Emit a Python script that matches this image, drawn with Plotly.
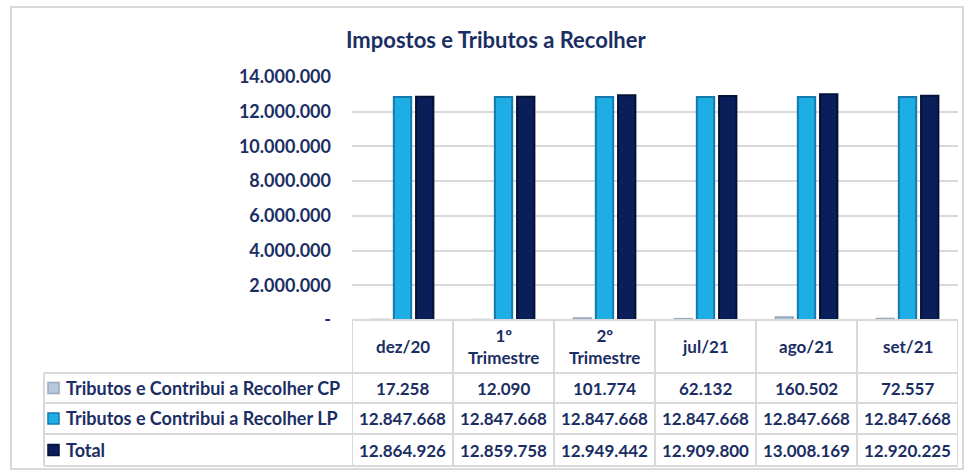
import plotly.graph_objects as go

# ---------------- data ----------------
categories = ["dez/20", "1º Trimestre", "2º Trimestre", "jul/21", "ago/21", "set/21"]
header_labels = ["dez/20", "1º<br>Trimestre", "2º<br>Trimestre", "jul/21", "ago/21", "set/21"]
series_names = ["Tributos e Contribui a Recolher CP",
                "Tributos e Contribui a Recolher LP",
                "Total"]
cp_values = [17258, 12090, 101774, 62132, 160502, 72557]
lp_values = [12847668, 12847668, 12847668, 12847668, 12847668, 12847668]
total_values = [12864926, 12859758, 12949442, 12909800, 13008169, 12920225]
y_tickvals = [0, 2000000, 4000000, 6000000, 8000000, 10000000, 12000000, 14000000]
title_text = "Impostos e Tributos a Recolher"

# ---------------- style ----------------
W, H = 965, 471
L, R, T, B = 352, 958, 77, 320   # plot area in pixels
FONT = "Lato"
NAVY_TXT = "#1B2E63"
GRID = "#D9D9D9"
fills = ["#B9C9DA", "#1EAEE6", "#0A1E5A"]
edges = ["#97AAC0", "#1679AE", "#051238"]


def fmt(v):
    return "-" if v == 0 else f"{v:,}".replace(",", ".")


def px(x):
    return (x - L) / (R - L)


def py(y):
    return (B - y) / (B - T)


fig = go.Figure()
all_series = [cp_values, lp_values, total_values]
for name, vals, fc, ec in zip(series_names, all_series, fills, edges):
    fig.add_trace(go.Bar(
        x=categories, y=vals, name=name,
        marker=dict(color=fc, line=dict(color=ec, width=2)),
        showlegend=False, hoverinfo="y+name",
    ))

shapes = []
annotations = []
line_style = dict(color=GRID, width=2)

# outer chart border
shapes.append(dict(type="rect", xref="paper", yref="paper",
                   x0=px(11), x1=px(963), y0=py(7), y1=py(469),
                   line=dict(color=GRID, width=2), fillcolor="rgba(0,0,0,0)", layer="below"))

# table geometry (pixels)
header_top, row_tops = 320, [373, 403, 434]
table_bottom = 466
legend_left = 44
row_bounds = row_tops + [table_bottom]

# horizontal lines
shapes.append(dict(type="line", xref="paper", yref="paper", x0=0, x1=1,
                   y0=py(header_top), y1=py(header_top), line=line_style))
for yb in row_bounds:
    shapes.append(dict(type="line", xref="paper", yref="paper", x0=px(legend_left), x1=1,
                       y0=py(yb), y1=py(yb), line=line_style))
# vertical lines
shapes.append(dict(type="line", xref="paper", yref="paper", x0=px(legend_left), x1=px(legend_left),
                   y0=py(row_tops[0]), y1=py(table_bottom), line=line_style))
n = len(categories)
for i in range(n + 1):
    shapes.append(dict(type="line", xref="x", yref="paper", x0=i - 0.5, x1=i - 0.5,
                       y0=py(header_top), y1=py(table_bottom), line=line_style))

num_font = dict(family=FONT, size=17, color=NAVY_TXT)
leg_font = dict(family=FONT, size=18, color=NAVY_TXT)
# header labels
for i, lab in enumerate(header_labels):
    annotations.append(dict(x=i, y=py((header_top + row_tops[0]) / 2), xref="x", yref="paper",
                            text=f"<b>{lab}</b>", showarrow=False, font=num_font,
                            xanchor="center", yanchor="middle"))
# rows
for r, (name, vals) in enumerate(zip(series_names, all_series)):
    yc = (row_bounds[r] + row_bounds[r + 1]) / 2
    # legend key
    shapes.append(dict(type="rect", xref="paper", yref="paper",
                       x0=px(48), x1=px(59), y0=py(yc - 5.5), y1=py(yc + 5.5),
                       fillcolor=fills[r], line=dict(color=edges[r], width=1.5)))
    annotations.append(dict(x=px(64), y=py(yc), xref="paper", yref="paper",
                            text=f"<b>{name}</b>", showarrow=False, font=leg_font,
                            xanchor="left", yanchor="middle"))
    for i, v in enumerate(vals):
        annotations.append(dict(x=i, y=py(yc), xref="x", yref="paper",
                                text=f"<b>{fmt(v)}</b>", showarrow=False, font=num_font,
                                xanchor="center", yanchor="middle"))

# title
annotations.append(dict(x=px(496), y=py(40), xref="paper", yref="paper",
                        text=f"<b>{title_text}</b>", showarrow=False,
                        font=dict(family=FONT, size=22, color=NAVY_TXT),
                        xanchor="center", yanchor="middle"))

fig.update_layout(
    width=W, height=H,
    margin=dict(l=L, r=W - R, t=T, b=H - B, pad=0),
    paper_bgcolor="white", plot_bgcolor="white",
    barmode="group", bargap=0.34, bargroupgap=0.22,
    shapes=shapes, annotations=annotations,
    font=dict(family=FONT, color=NAVY_TXT),
    xaxis=dict(showticklabels=False, showgrid=False, zeroline=False, showline=False,
               ticks="", range=[-0.5, n - 0.5]),
    yaxis=dict(range=[0, 14000000], tickvals=y_tickvals,
               ticktext=[f"<b>{fmt(v)}</b>" for v in y_tickvals],
               tickfont=dict(family=FONT, size=18, color=NAVY_TXT),
               showgrid=True, gridcolor=GRID, gridwidth=2,
               zeroline=False, showline=False, ticks="", ticklabelstandoff=20),
)

fig.write_html("out.html", config={"displayModeBar": False},
               post_script="document.body.style.margin='0';document.body.style.overflow='hidden';")
